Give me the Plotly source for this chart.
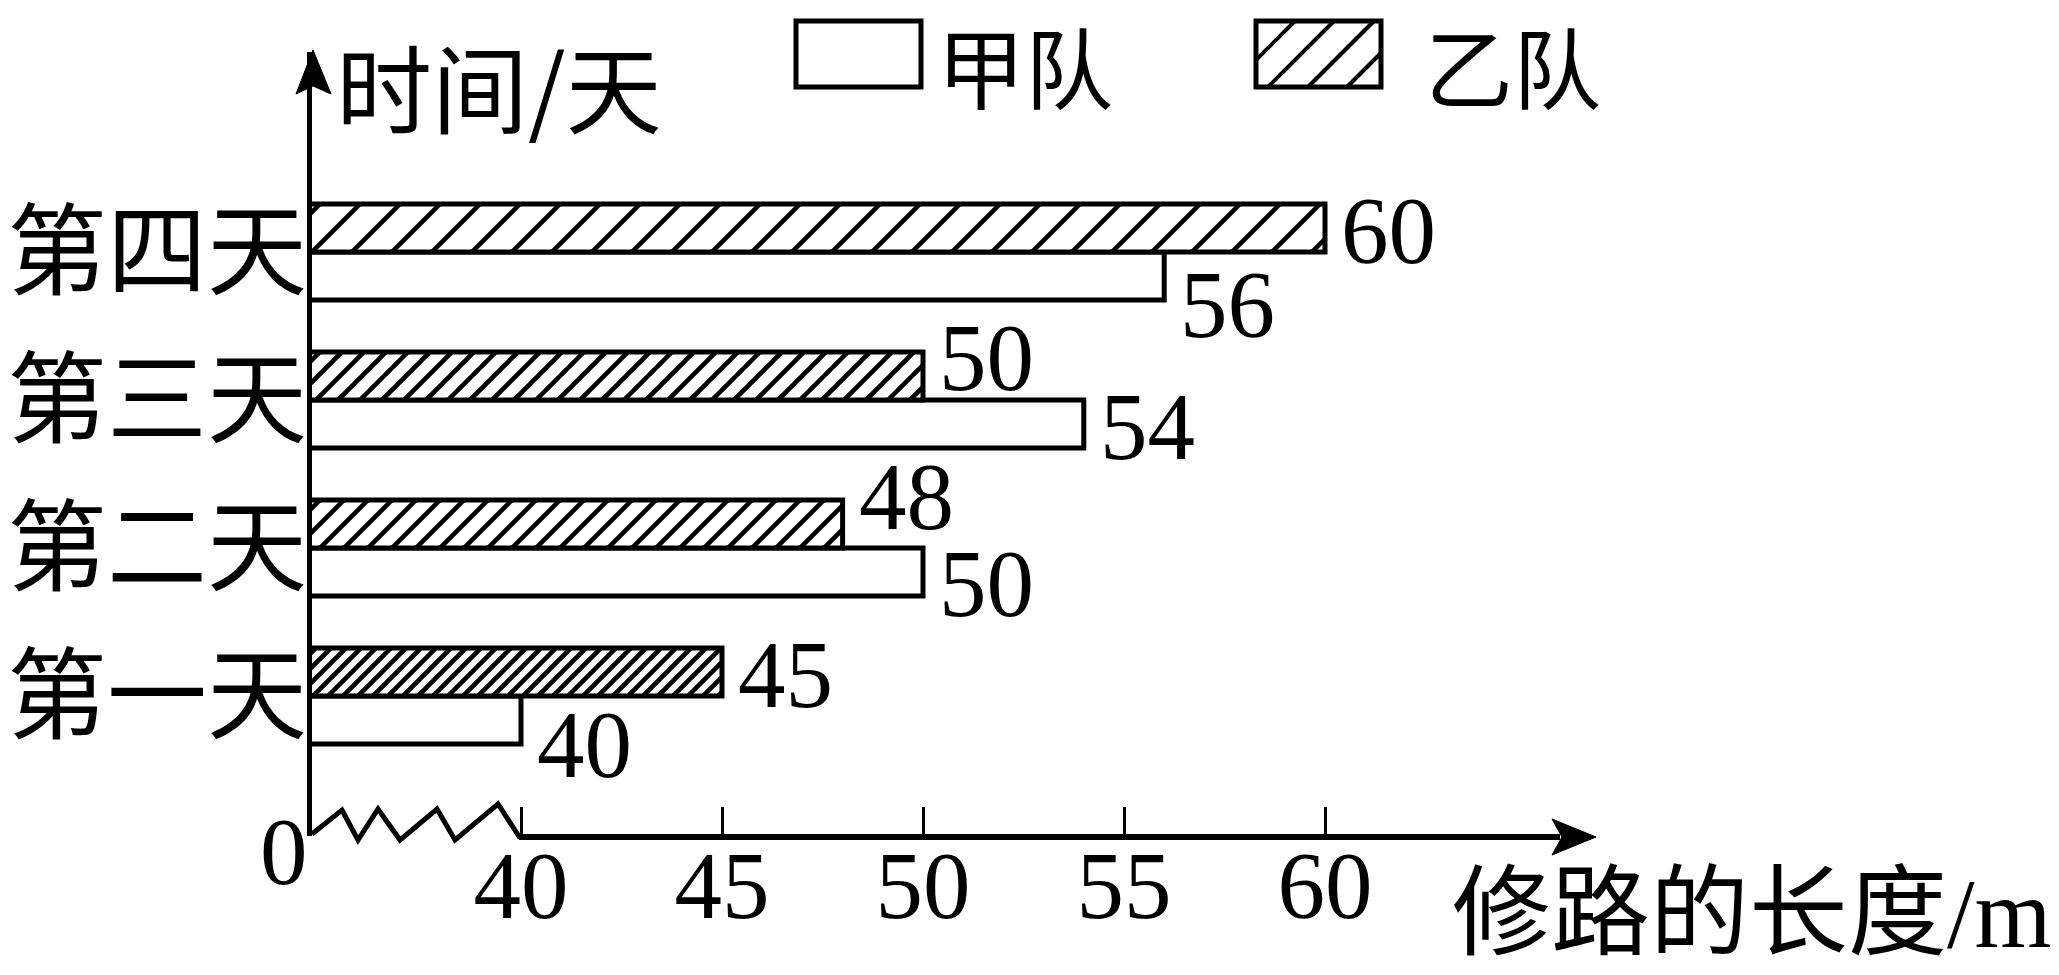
import math
import plotly.graph_objects as go

# ---- data ----
days = ["第一天", "第二天", "第三天", "第四天"]
team_jia = [40, 50, 54, 56]   # 甲队
team_yi = [45, 48, 50, 60]    # 乙队
x_ticks = [40, 45, 50, 55, 60]
x_tick_text = ["40", "45", "50", "55", "60"]

# ---- styles ----
OFF = 8                                  # page body margin
WP, HP = 2059, 975                       # page (window) size
L, R, T, B = 312, 1593, 52, 836          # plot-area box in page pixels
PW, PH = R - L, B - T
SERIF = "Liberation Serif, Times New Roman, serif"
CJK = "Noto Sans CJK SC, sans-serif"
hatch_spacing = [15, 24, 22, 40]         # px between hatch lines per bar
hatch_size = [s / math.sqrt(2) for s in hatch_spacing]
hatch_solid = [min(0.5, 4.5 / s) for s in hatch_size]
yi_label_shift = [21, 51, 42, 21]
jia_label_shift = [-49, -36, -27, -53]

def fx(p):
    return (p - L) / PW

def fy(p):
    return (B - p) / PH

fig = go.Figure()
fig.add_trace(go.Bar(
    y=days, x=team_jia, orientation="h", name="甲队",
    marker=dict(color="white", line=dict(color="black", width=5)),
    showlegend=False, hoverinfo="x+y",
))
fig.add_trace(go.Bar(
    y=days, x=team_yi, orientation="h", name="乙队",
    marker=dict(
        line=dict(color="black", width=5),
        pattern=dict(shape="/", fgcolor="#000000", bgcolor="#ffffff", fgopacity=1,
                     size=hatch_size, solidity=hatch_solid, fillmode="replace"),
    ),
    showlegend=False, hoverinfo="x+y",
))

# value labels
for d, v, s in zip(days, team_yi, yi_label_shift):
    fig.add_annotation(x=v, y=d, xref="x", yref="y", text=str(v), showarrow=False,
                       xanchor="left", yanchor="middle", xshift=14, yshift=s,
                       font=dict(family=SERIF, size=95, color="black"))
for d, v, s in zip(days, team_jia, jia_label_shift):
    fig.add_annotation(x=v, y=d, xref="x", yref="y", text=str(v), showarrow=False,
                       xanchor="left", yanchor="middle", xshift=14, yshift=s,
                       font=dict(family=SERIF, size=95, color="black"))

shapes = []
# x axis line (from 40) and arrow
shapes.append(dict(type="line", xref="paper", yref="paper",
                   x0=fx(519), x1=fx(1560), y0=fy(837), y1=fy(837),
                   line=dict(color="black", width=6)))
shapes.append(dict(type="path", xref="paper", yref="paper",
                   path=f"M{fx(1596)},{fy(837)} L{fx(1552)},{fy(819)} L{fx(1562)},{fy(837)} L{fx(1552)},{fy(855)} Z",
                   fillcolor="black", line=dict(color="black", width=1)))
# y axis arrow head
shapes.append(dict(type="path", xref="paper", yref="paper",
                   path=f"M{fx(313)},{fy(50)} L{fx(296)},{fy(94)} L{fx(313)},{fy(86)} L{fx(331)},{fy(94)} Z",
                   fillcolor="black", line=dict(color="black", width=1)))
# axis break zigzag
zz = [(312, 834), (342, 810), (358, 840), (378, 809), (400, 840), (437, 809),
      (455, 840), (498, 804), (520, 838)]
shapes.append(dict(type="path", xref="paper", yref="paper",
                   path="M" + " L".join(f"{fx(a)},{fy(b)}" for a, b in zz),
                   line=dict(color="black", width=5)))

# legend boxes
bx0, bx1, by0, by1 = 796, 921, 21, 87
shapes.append(dict(type="rect", xref="paper", yref="paper",
                   x0=fx(bx0), x1=fx(bx1), y0=fy(by1), y1=fy(by0),
                   line=dict(color="black", width=5), fillcolor="white"))
hx0, hx1 = 1256, 1381
shapes.append(dict(type="rect", xref="paper", yref="paper",
                   x0=fx(hx0), x1=fx(hx1), y0=fy(by1), y1=fy(by0),
                   line=dict(color="black", width=5), fillcolor="white"))
for c in [1316, 1355, 1395, 1434]:
    pts = []
    for yy in (by0, by1):
        xx = c - yy
        if hx0 <= xx <= hx1:
            pts.append((xx, yy))
    for xx in (hx0, hx1):
        yy = c - xx
        if by0 < yy < by1:
            pts.append((xx, yy))
    if len(pts) >= 2:
        (a0, b0), (a1, b1) = pts[0], pts[1]
        shapes.append(dict(type="line", xref="paper", yref="paper",
                           x0=fx(a0), y0=fy(b0), x1=fx(a1), y1=fy(b1),
                           line=dict(color="black", width=4)))

annotations_extra = [
    dict(text="甲队", x=fx(935), y=fy(64), xanchor="left", yanchor="middle",
         font=dict(family=CJK, size=88, color="black")),
    dict(text="乙队", x=fx(1423), y=fy(64), xanchor="left", yanchor="middle",
         font=dict(family=CJK, size=88, color="black")),
    dict(text="时间/天", x=fx(334), y=fy(84), xanchor="left", yanchor="middle",
         font=dict(family=CJK, size=96, color="black")),
    dict(text="修路的长度<span style=\"font-family:'Liberation Serif'\">/m</span>",
         x=fx(1450), y=fy(904), xanchor="left", yanchor="middle",
         font=dict(family=CJK, size=99, color="black")),
    dict(text="0", x=fx(284), y=fy(852), xanchor="center", yanchor="middle",
         font=dict(family=SERIF, size=95, color="black")),
]
for a in annotations_extra:
    fig.add_annotation(xref="paper", yref="paper", showarrow=False, **a)

Wf, Hf = WP - OFF, HP - OFF
fig.update_layout(
    width=Wf, height=Hf,
    margin=dict(l=L - OFF, r=Wf - (R - OFF), t=T - OFF, b=Hf - (B - OFF),
                pad=0, autoexpand=False),
    paper_bgcolor="white", plot_bgcolor="white",
    barmode="group", bargap=0.35, bargroupgap=0,
    shapes=shapes,
    xaxis=dict(range=[40 - (521 - L) / 40.2, 40 + (R - 521) / 40.2],
               tickvals=x_ticks, ticktext=x_tick_text, automargin=False,
               ticks="inside", ticklen=29, tickwidth=3, tickcolor="black",
               showline=False, showgrid=False, zeroline=False,
               ticklabelstandoff=-14,
               tickfont=dict(family=SERIF, size=95, color="black")),
    yaxis=dict(type="category", categoryorder="array", categoryarray=days,
               range=[-(B - 696) / 148, 3 + (252 - T) / 148], automargin=False,
               showline=True, linecolor="black", linewidth=5,
               showgrid=False, zeroline=False, ticks="",
               ticklabelstandoff=-20,
               tickfont=dict(family=CJK, size=100, color="black")),
)

fig.write_html("out.html")
